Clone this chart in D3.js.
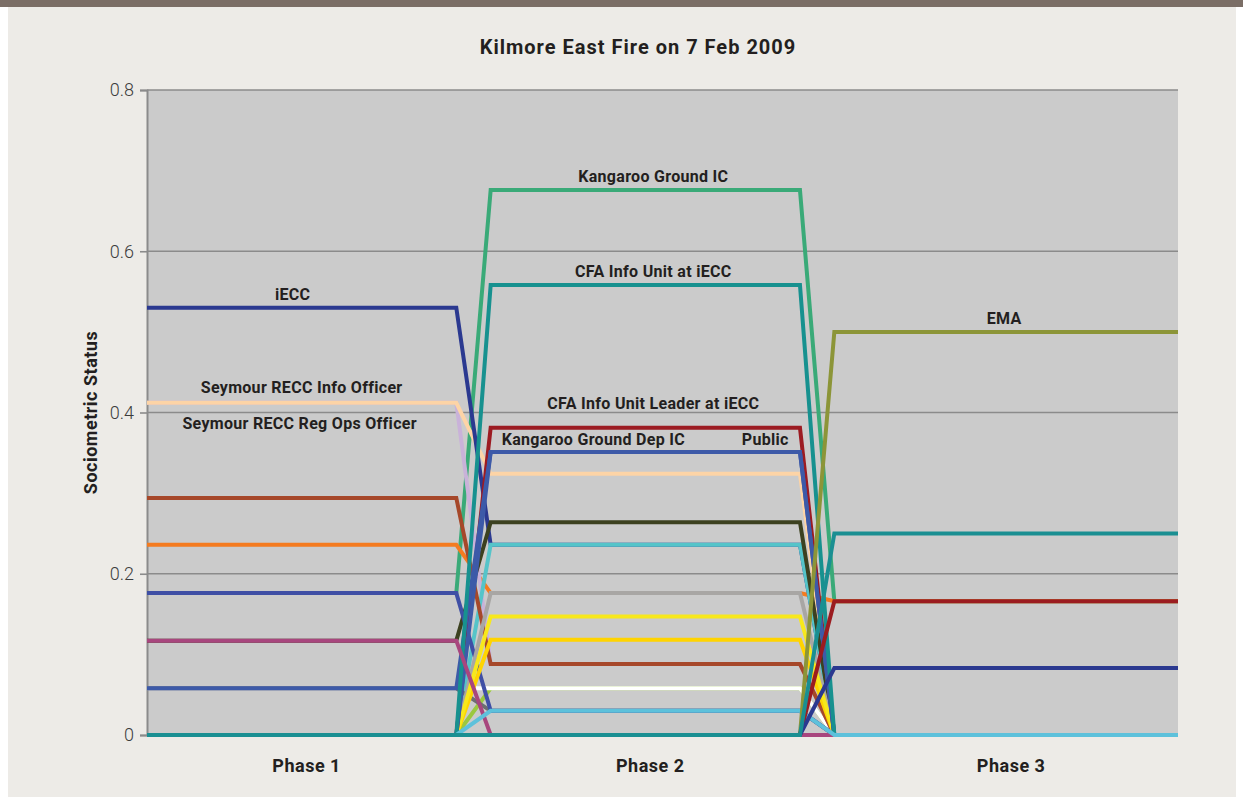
<!DOCTYPE html>
<html>
<head>
<meta charset="utf-8">
<script src="https://cdnjs.cloudflare.com/ajax/libs/d3/7.8.5/d3.min.js"></script>
<style>
	body { margin: 0; background: #ffffff; }
	text { font-family: Roboto, "Open Sans", sans-serif; }
</style>
</head>
<body>
<script>
// phases along the x axis
var phases = ["Phase 1", "Phase 2", "Phase 3"];
var yTicks = [0, 0.2, 0.4, 0.6, 0.8];

// series, in drawing order (first one is at the bottom)
var seriesNames = [
	"Lime", "White", "Kangaroo Ground IC", "Orange", "Seymour RECC Reg Ops Officer",
	"Seymour RECC Info Officer", "iECC", "Light Cyan", "Dark Olive", "Sienna",
	"Dark Gray", "Blue A", "Gray", "Gold", "Yellow", "CFA Info Unit Leader at iECC",
	"Public", "Kangaroo Ground Dep IC", "CFA Info Unit at iECC", "Plum",
	"Light Blue", "EMA", "Red", "Navy", "Teal"
];
var seriesValues = [
	[0, 0.058, 0],
	[0.058, 0.058, 0],
	[0.176, 0.676, 0.166],
	[0.236, 0.176, 0.166],
	[0.412, 0.088, 0],
	[0.412, 0.324, 0],
	[0.53, 0.236, 0],
	[0, 0.236, 0],
	[0.117, 0.264, 0],
	[0.294, 0.088, 0],
	[0.058, 0.03, 0],
	[0.176, 0.03, 0],
	[0, 0.176, 0],
	[0, 0.118, 0],
	[0, 0.147, 0],
	[0, 0.381, 0],
	[0, 0.351, 0],
	[0.058, 0.351, 0],
	[0, 0.558, 0],
	[0.117, 0, 0],
	[0, 0.03, 0],
	[0, 0, 0.5],
	[0, 0, 0.166],
	[0, 0, 0.083],
	[0, 0, 0.25]
];
var seriesColors = [
	"#9bc83f", "#ffffff", "#3aaa78", "#f47b20", "#c9b2d9",
	"#fdd4a6", "#2b3990", "#55c4c9", "#3c4120", "#a6482a",
	"#6d6e70", "#3f4fa5", "#a8a6a4", "#ffd400", "#f7e81c", "#9c1b22",
	"#3d5aa8", "#3d5aa8", "#17918f", "#a8467e",
	"#5dc1db", "#8c9538", "#9b1c20", "#2b3990", "#1a8f92"
];

window.onload = function(){

	var w = 1243, h = 801;

	var svg = d3.select("body")
		.append("svg")
		.attr("width", w)
		.attr("height", h);

	svg.append("rect")
		.attr("x", 8).attr("y", 0)
		.attr("width", 1228).attr("height", 797)
		.style("fill", "#edebe7");

	svg.append("rect")
		.attr("x", 0).attr("y", 0)
		.attr("width", w).attr("height", 7)
		.style("fill", "#7b6e66");

	// each phase is a flat run, then a short jump to the next one
	var x = d3.scaleLinear()
		.domain([0, 3])
		.range([147, 1178]);

	var y = d3.scaleLinear()
		.domain([0, 0.8])
		.range([735, 90]);

	var flat = 0.9;

	svg.append("rect")
		.attr("x", x(0))
		.attr("y", y(0.8))
		.attr("width", x(3) - x(0))
		.attr("height", y(0) - y(0.8))
		.style("fill", "#cbcbcb");

	// gridlines
	svg.selectAll(".grid")
		.data(yTicks)
		.enter()
		.append("line")
		.attr("class", "grid")
		.attr("x1", x(0))
		.attr("x2", x(3))
		.attr("y1", function(d){ return y(d); })
		.attr("y2", function(d){ return y(d); })
		.style("stroke", "#8b8b8b")
		.style("stroke-width", 1.6);

	var yAxis = d3.axisLeft(y)
		.tickValues(yTicks)
		.tickSize(7)
		.tickPadding(6)
		.tickFormat(function(d){ return d === 0 ? "0" : d3.format(".1f")(d); });

	var axis = svg.append("g")
		.attr("transform", "translate(" + x(0) + ",0)")
		.call(yAxis);

	axis.select(".domain").style("stroke", "#8b8b8b").style("stroke-width", 2);
	axis.selectAll(".tick line").style("stroke", "#8b8b8b").style("stroke-width", 1.6);
	axis.selectAll(".tick text")
		.style("font-size", "18px")
		.style("fill", "#3c3c3c")
		.style("font-family", "Roboto, sans-serif")
		.style("font-weight", 300);

	// build the step-like points for each series
	function points(vals){
		var pts = [];
		vals.forEach(function(v, i){
			pts.push([i, v]);
			pts.push([i === vals.length - 1 ? 3 : i + flat, v]);
		});
		return pts;
	}

	var line = d3.line()
		.x(function(d){ return x(d[0]); })
		.y(function(d){ return y(d[1]); });

	svg.selectAll(".series")
		.data(seriesValues)
		.enter()
		.append("path")
		.attr("class", "series")
		.attr("d", function(d){ return line(points(d)); })
		.style("fill", "none")
		.style("stroke", function(d, i){ return seriesColors[i]; })
		.style("stroke-width", 4)
		.style("stroke-linejoin", "miter");

	// series labels: which phase they sit on, nudges in px
	var labels = [
		{ name: "Kangaroo Ground IC", phase: 1, dx: 8, dy: -8 },
		{ name: "CFA Info Unit at iECC", phase: 1, dx: 8, dy: -8 },
		{ name: "CFA Info Unit Leader at iECC", phase: 1, dx: 8, dy: -19 },
		{ name: "Kangaroo Ground Dep IC", phase: 1, dx: -52, dy: -7 },
		{ name: "Public", phase: 1, dx: 120, dy: -7 },
		{ name: "iECC", phase: 0, dx: -9, dy: -8 },
		{ name: "Seymour RECC Info Officer", phase: 0, dx: 0, dy: -10 },
		{ name: "Seymour RECC Reg Ops Officer", phase: 0, dx: -2, dy: 26 },
		{ name: "EMA", phase: 2, dx: -2, dy: -8 }
	];

	svg.selectAll(".label")
		.data(labels)
		.enter()
		.append("text")
		.attr("class", "label")
		.attr("text-anchor", "middle")
		.attr("x", function(d){
			var p = d.phase;
			var end = p === 2 ? 3 : p + flat;
			return (x(p) + x(end)) / 2 + d.dx;
		})
		.attr("y", function(d){
			var k = seriesNames.indexOf(d.name);
			return y(seriesValues[k][d.phase]) + d.dy;
		})
		.style("font-size", "16px")
		.style("letter-spacing", "0.3px")
		.style("font-weight", "bold")
		.style("fill", "#231f20")
		.text(function(d){ return d.name; });

	// phase labels under the plot
	svg.selectAll(".phase")
		.data(phases)
		.enter()
		.append("text")
		.attr("class", "phase")
		.attr("text-anchor", "middle")
		.attr("x", function(d, i){
			var end = i === 2 ? 3 : i + flat;
			return (x(i) + x(end)) / 2 + 5;
		})
		.attr("y", 772)
		.style("font-size", "18px")
		.style("letter-spacing", "0.5px")
		.style("font-weight", "bold")
		.style("fill", "#231f20")
		.text(function(d){ return d; });

	svg.append("text")
		.attr("transform", "translate(97," + y(0.4) + ") rotate(-90)")
		.attr("text-anchor", "middle")
		.style("font-size", "18px")
		.style("letter-spacing", "0.5px")
		.style("font-weight", "bold")
		.style("fill", "#231f20")
		.text("Sociometric Status");

	svg.append("text")
		.attr("x", 638)
		.attr("y", 54)
		.attr("text-anchor", "middle")
		.style("font-size", "20px")
		.style("letter-spacing", "1px")
		.style("font-weight", "bold")
		.style("fill", "#231f20")
		.text("Kilmore East Fire on 7 Feb 2009");
};
</script>
</body>
</html>
